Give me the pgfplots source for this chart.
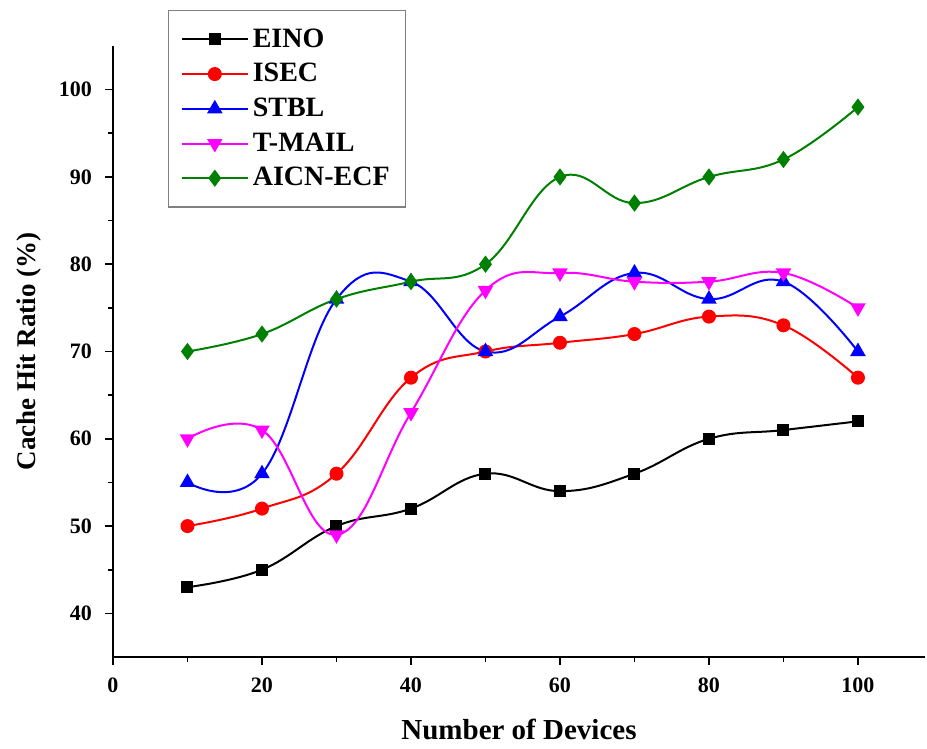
\documentclass[border=0pt]{standalone}
\usepackage{fontspec}
\setmainfont{Liberation Serif}
\usepackage{pgfplots}
\pgfplotsset{compat=1.18}
\definecolor{dgreen}{RGB}{0,128,0}
\definecolor{mag}{RGB}{255,0,255}
\begin{document}
\begin{tikzpicture}
\useasboundingbox (0pt,0pt) rectangle (463.5pt,374.5pt);
\begin{axis}[
  at={(56.5pt,46pt)}, anchor=south west,
  scale only axis, width=406pt, height=305.5pt,
  xmin=0, xmax=109, ymin=35, ymax=105,
  axis x line*=bottom, axis y line*=left,
  axis line style={-, line width=1pt},
  xtick={0,20,...,100}, ytick={40,50,...,100},
  minor x tick num=1, minor y tick num=1,
  tick align=outside,
  major tick length=4pt, minor tick length=2.5pt,
  every tick/.style={black, line width=0.8pt},
  ticklabel style={font=\fontsize{11}{13}\selectfont\bfseries},
  xticklabel style={yshift=-3pt},
  yticklabel style={xshift=-3pt},
  /pgf/number format/assume math mode=true,
  xlabel={Number of Devices},
  ylabel={Cache Hit Ratio (\%)},
  xlabel style={font=\fontsize{14.5}{17}\selectfont\bfseries, yshift=-6pt},
  ylabel style={font=\fontsize{13.5}{16}\selectfont\bfseries, yshift=2pt},
  legend style={at={(0.068,1.059)}, anchor=north west, draw=gray, line width=0.6pt,
    font=\fontsize{14}{16}\selectfont\bfseries, row sep=2.6pt, inner xsep=6pt, inner ysep=7pt,
    legend cell align=left},
  legend image code/.code={\draw[mark repeat=2,mark phase=2] plot coordinates {(0pt,0pt) (16.5pt,0pt) (33pt,0pt)};},
  every axis plot/.append style={line width=1pt, smooth, tension=0.7},
]
\addplot[black, mark=square*, mark size=2.5pt, mark options={fill=black}] coordinates {
(10,43) (20,45) (30,50) (40,52) (50,56) (60,54) (70,56) (80,60) (90,61) (100,62)};
\addlegendentry{EINO}
\addplot[red, mark=*, mark size=3pt, mark options={fill=red}] coordinates {
(10,50) (20,52) (30,56) (40,67) (50,70) (60,71) (70,72) (80,74) (90,73) (100,67)};
\addlegendentry{ISEC}
\addplot[blue, mark=triangle*, mark size=3.5pt, mark options={fill=blue}] coordinates {
(10,55) (20,56) (30,76) (40,78) (50,70) (60,74) (70,79) (80,76) (90,78) (100,70)};
\addlegendentry{STBL}
\addplot[mag, mark=triangle*, mark size=3.5pt, mark options={fill=mag, rotate=180}] coordinates {
(10,60) (20,61) (30,49) (40,63) (50,77) (60,79) (70,78) (80,78) (90,79) (100,75)};
\addlegendentry{T-MAIL}
\addplot[dgreen, mark=diamond*, mark size=3.5pt, mark options={fill=dgreen}] coordinates {
(10,70) (20,72) (30,76) (40,78) (50,80) (60,90) (70,87) (80,90) (90,92) (100,98)};
\addlegendentry{AICN-ECF}
\end{axis}
\end{tikzpicture}
\end{document}
